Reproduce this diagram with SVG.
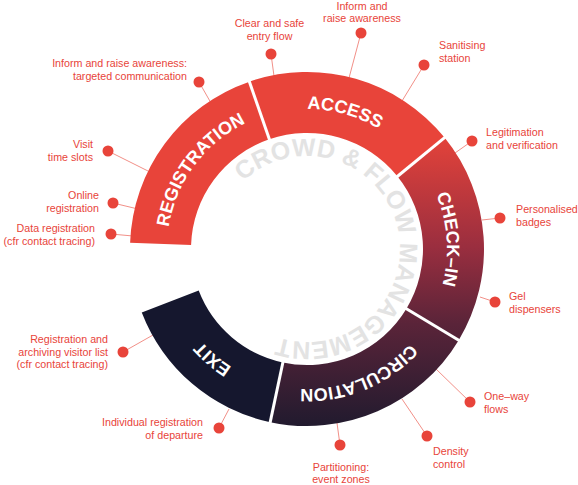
<svg xmlns="http://www.w3.org/2000/svg" xmlns:xlink="http://www.w3.org/1999/xlink" width="578" height="485" viewBox="0 0 578 485">
<defs>
<style>
.lbl{font-family:"Liberation Sans",Arial,sans-serif;font-size:10.7px;fill:#e8443a}
.r{text-anchor:end}
.m{text-anchor:middle}
.seg{font-family:"Liberation Sans",Arial,sans-serif;font-weight:bold;font-size:18px;fill:#ffffff;text-anchor:middle}
.hub{font-family:"Liberation Sans",Arial,sans-serif;font-weight:bold;font-size:25px;fill:#e3e3e3;text-anchor:middle}
.lead{stroke:#f29088;stroke-width:1;fill:none}
.dot{fill:#e8443a}
.sep{stroke:#ffffff;stroke-width:3}
</style>
<linearGradient id="grad" gradientUnits="userSpaceOnUse" x1="0" y1="135" x2="0" y2="430">
<stop offset="0" stop-color="#e5433a"/>
<stop offset="0.38" stop-color="#9a2e3f"/>
<stop offset="0.64" stop-color="#5a2439"/>
<stop offset="1" stop-color="#1f1a2e"/>
</linearGradient>
<path id="ringPath" d="M 167 249 A 140 140 0 0 1 447 249 A 140 140 0 0 1 167 249"/>
<path id="hubPath" d="M 214 249 A 93 93 0 0 1 400 249 A 93 93 0 0 1 214 249"/>
</defs>
<rect width="578" height="485" fill="#ffffff"/>

<g id="connectors">
<line class="lead" x1="271" y1="54" x2="274" y2="76"/>
<line class="lead" x1="361" y1="33" x2="349" y2="78"/>
<line class="lead" x1="424" y1="65" x2="402" y2="101"/>
<line class="lead" x1="472" y1="141" x2="455" y2="153"/>
<line class="lead" x1="500" y1="218" x2="482" y2="220"/>
<line class="lead" x1="495" y1="302" x2="480" y2="297"/>
<line class="lead" x1="470" y1="402" x2="436" y2="369"/>
<line class="lead" x1="427" y1="436" x2="402" y2="399"/>
<line class="lead" x1="340" y1="445" x2="337" y2="423"/>
<line class="lead" x1="219" y1="428" x2="229" y2="409"/>
<line class="lead" x1="123" y1="352" x2="153" y2="335"/>
<line class="lead" x1="111" y1="234" x2="133" y2="236"/>
<line class="lead" x1="113" y1="203" x2="138" y2="209"/>
<line class="lead" x1="108" y1="151" x2="150" y2="172"/>
<line class="lead" x1="199" y1="82" x2="211" y2="103"/>
</g>

<g id="ring">
<path id="seg-registration" fill="#e8443a" d="M 130.11 242.82 A 177 177 0 0 1 249.37 81.64 L 269.23 139.32 A 116 116 0 0 0 191.07 244.95 Z"/>
<path id="seg-access" fill="#e8443a" d="M 249.37 81.64 A 177 177 0 0 1 444.56 137.61 L 397.15 176.00 A 116 116 0 0 0 269.23 139.32 Z"/>
<path id="seg-checkin" fill="url(#grad)" d="M 444.56 137.61 A 177 177 0 0 1 458.72 340.16 L 406.43 308.74 A 116 116 0 0 0 397.15 176.00 Z"/>
<path id="seg-circulation" fill="url(#grad)" d="M 458.72 340.16 A 177 177 0 0 1 270.20 422.13 L 282.88 362.47 A 116 116 0 0 0 406.43 308.74 Z"/>
<path id="seg-exit" fill="#15172e" d="M 270.20 422.13 A 177 177 0 0 1 141.76 312.43 L 198.70 290.57 A 116 116 0 0 0 282.88 362.47 Z"/>
<line class="sep" x1="269.88" y1="140.79" x2="248.72" y2="79.75"/>
<line class="sep" x1="396.38" y1="177.26" x2="446.12" y2="136.35"/>
<line class="sep" x1="405.14" y1="307.97" x2="460.43" y2="341.19"/>
<line class="sep" x1="283.19" y1="361.00" x2="269.79" y2="424.09"/>
</g>

<g id="registration">
<text class="seg"><textPath xlink:href="#ringPath" href="#ringPath" startOffset="10.14%">REGISTRATION</textPath></text>
</g>
<g id="access">
<text class="seg"><textPath xlink:href="#ringPath" href="#ringPath" startOffset="29.3%">ACCESS</textPath></text>
</g>
<g id="checkin">
<text class="seg"><textPath xlink:href="#ringPath" href="#ringPath" startOffset="48.89%">CHECK–IN</textPath></text>
</g>
<g id="circulation">
<text class="seg"><textPath xlink:href="#ringPath" href="#ringPath" startOffset="68.8%">CIRCULATION</textPath></text>
</g>
<g id="exit">
<text class="seg"><textPath xlink:href="#ringPath" href="#ringPath" startOffset="86.3%">EXIT</textPath></text>
</g>
<g id="hub">
<text class="hub"><textPath xlink:href="#hubPath" href="#hubPath" startOffset="46.5%">CROWD &amp; FLOW MANAGEMENT</textPath></text>
</g>

<g id="callout-clear-entry">
<circle class="dot" cx="271" cy="54" r="5.5"/>
<text class="lbl m" x="269.5" y="27">Clear and safe</text>
<text class="lbl m" x="269.5" y="39.5">entry flow</text>
</g>
<g id="callout-inform">
<circle class="dot" cx="361" cy="33" r="5.5"/>
<text class="lbl m" x="362" y="9.5">Inform and</text>
<text class="lbl m" x="362" y="22">raise awareness</text>
</g>
<g id="callout-sanitising">
<circle class="dot" cx="424" cy="65" r="5.5"/>
<text class="lbl" x="439" y="49">Sanitising</text>
<text class="lbl" x="439" y="61.5">station</text>
</g>
<g id="callout-legitimation">
<circle class="dot" cx="472" cy="141" r="5.5"/>
<text class="lbl" x="486" y="136">Legitimation</text>
<text class="lbl" x="486" y="148.5">and verification</text>
</g>
<g id="callout-badges">
<circle class="dot" cx="500" cy="218" r="5.5"/>
<text class="lbl" x="516" y="213">Personalised</text>
<text class="lbl" x="516" y="225.5">badges</text>
</g>
<g id="callout-gel">
<circle class="dot" cx="495" cy="302" r="5.5"/>
<text class="lbl" x="509" y="300">Gel</text>
<text class="lbl" x="509" y="312.5">dispensers</text>
</g>
<g id="callout-oneway">
<circle class="dot" cx="470" cy="402" r="5.5"/>
<text class="lbl" x="484" y="400">One–way</text>
<text class="lbl" x="484" y="412.5">flows</text>
</g>
<g id="callout-density">
<circle class="dot" cx="427" cy="436" r="5.5"/>
<text class="lbl" x="433" y="455">Density</text>
<text class="lbl" x="433" y="467.5">control</text>
</g>
<g id="callout-partitioning">
<circle class="dot" cx="340" cy="445" r="5.5"/>
<text class="lbl m" x="341" y="471">Partitioning:</text>
<text class="lbl m" x="341" y="483">event zones</text>
</g>
<g id="callout-individual">
<circle class="dot" cx="219" cy="428" r="5.5"/>
<text class="lbl r" x="203" y="426">Individual registration</text>
<text class="lbl r" x="203" y="438.5">of departure</text>
</g>
<g id="callout-archiving">
<circle class="dot" cx="123" cy="352" r="5.5"/>
<text class="lbl r" x="108" y="343">Registration and</text>
<text class="lbl r" x="108" y="355.5">archiving visitor list</text>
<text class="lbl r" x="108" y="368">(cfr contact tracing)</text>
</g>
<g id="callout-data">
<circle class="dot" cx="111" cy="234" r="5.5"/>
<text class="lbl r" x="95" y="232">Data registration</text>
<text class="lbl r" x="95" y="244.5">(cfr contact tracing)</text>
</g>
<g id="callout-online">
<circle class="dot" cx="113" cy="203" r="5.5"/>
<text class="lbl r" x="99" y="199">Online</text>
<text class="lbl r" x="99" y="211.5">registration</text>
</g>
<g id="callout-visit">
<circle class="dot" cx="108" cy="151" r="5.5"/>
<text class="lbl r" x="93" y="148">Visit</text>
<text class="lbl r" x="93" y="160.5">time slots</text>
</g>
<g id="callout-targeted">
<circle class="dot" cx="199" cy="82" r="5.5"/>
<text class="lbl r" x="187" y="67">Inform and raise awareness:</text>
<text class="lbl r" x="187" y="79.5">targeted communication</text>
</g>
</svg>
